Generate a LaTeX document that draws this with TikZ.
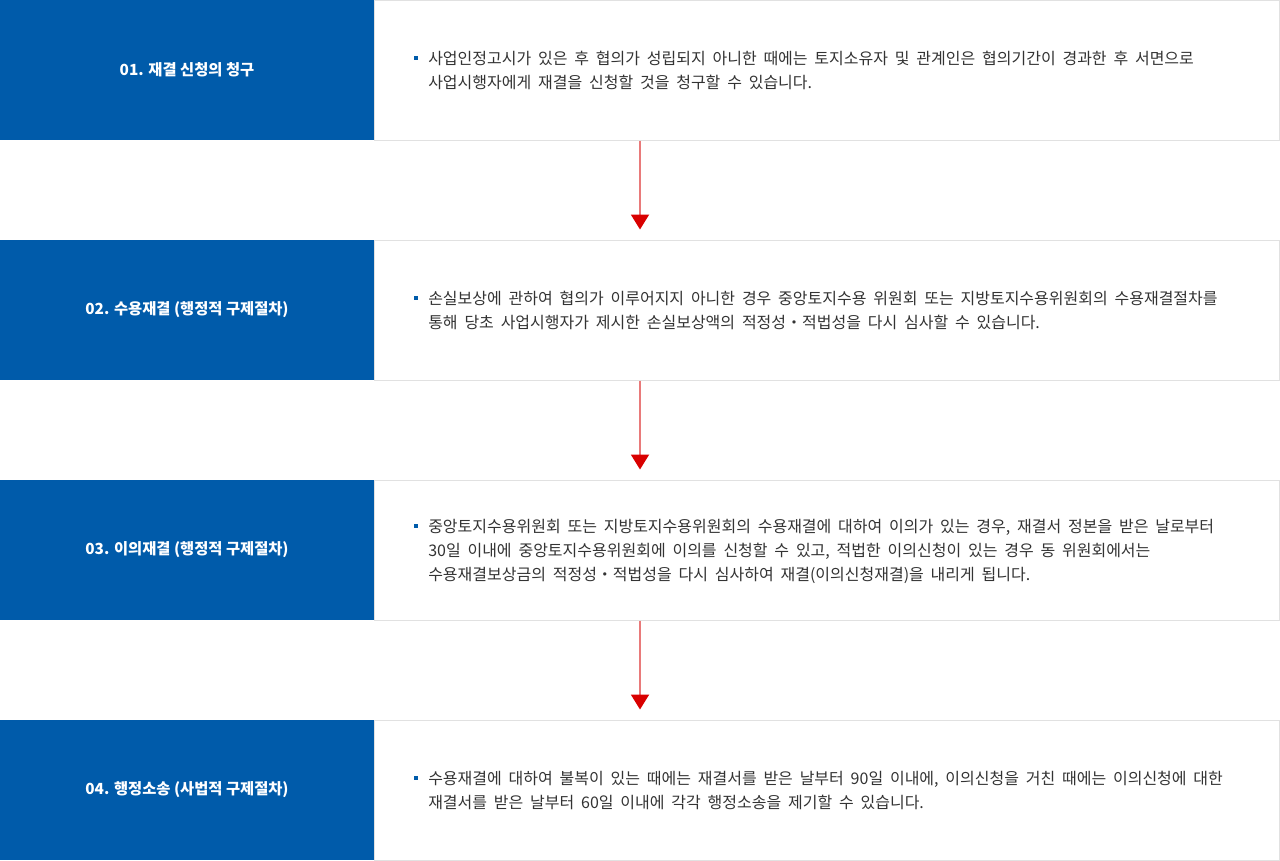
\documentclass[tikz,border=0pt]{standalone}
\usepackage{fontspec}
\setmainfont{Noto Sans CJK KR}
\newfontfamily\bodyfont[WordSpace=1.9]{Noto Sans CJK KR}
\usetikzlibrary{arrows.meta,positioning,calc}
\definecolor{stepblue}{HTML}{005BAA}
\definecolor{framegray}{HTML}{E1E1E1}
\definecolor{bodygray}{HTML}{333333}
\definecolor{linkred}{HTML}{E97A7A}
\definecolor{tipred}{HTML}{D90000}
\tikzset{
	titlebox/.style={
		fill=stepblue,
		minimum width=280.5pt,
		minimum height=105pt,
		inner sep=0pt,
		text=white,
		font=\fontsize{11.5}{14}\selectfont\bfseries
	},
	descbox/.style={
		draw=framegray,
		line width=0.75pt,
		fill=white,
		minimum width=678.75pt,
		minimum height=105pt,
		inner sep=0pt
	},
	desctext/.style={
		anchor=west,
		align=left,
		inner sep=0pt,
		text=bodygray,
		font=\bodyfont\fontsize{12}{18}\selectfont
	},
	bullet/.style={
		fill=stepblue,
		minimum size=3pt,
		inner sep=0pt
	},
	flow/.style={
		draw=linkred,
		line width=1.5pt,
		-{Triangle[length=11.25pt,width=13.5pt,color=tipred]},
		shorten >=7.5pt
	}
}

\begin{document}
\begin{tikzpicture}[x=0.75pt,y=-0.75pt]
	\useasboundingbox (0,0) rectangle (1280,860);
	
	% Boxes
	\node[titlebox] (t1) at (187,70) {01. 재결 신청의 청구};
	\node[descbox] (d1) at (826.5,70) {};
	\node[titlebox] (t2) at (187,310) {02. 수용재결 (행정적 구제절차)};
	\node[descbox] (d2) at (826.5,310) {};
	\node[titlebox] (t3) at (187,550) {03. 이의재결 (행정적 구제절차)};
	\node[descbox] (d3) at (826.5,550) {};
	\node[titlebox] (t4) at (187,790) {04. 행정소송 (사법적 구제절차)};
	\node[descbox] (d4) at (826.5,790) {};
	
	% Texts
	\node[bullet] (b1) at (415.5,58) {};
	\node[desctext] (x1) at (428,70)
	{사업인정고시가 있은 후 협의가 성립되지 아니한 때에는 토지소유자 및 관계인은 협의기간이 경과한 후 서면으로\\
		사업시행자에게 재결을 신청할 것을 청구할 수 있습니다.};
	\node[bullet] (b2) at (415.5,298) {};
	\node[desctext] (x2) at (428,310)
	{손실보상에 관하여 협의가 이루어지지 아니한 경우 중앙토지수용 위원회 또는 지방토지수용위원회의 수용재결절차를\\
		통해 당초 사업시행자가 제시한 손실보상액의 적정성・적법성을 다시 심사할 수 있습니다.};
	\node[bullet] (b3) at (415.5,526) {};
	\node[desctext] (x3) at (428,551)
	{중앙토지수용위원회 또는 지방토지수용위원회의 수용재결에 대하여 이의가 있는 경우, 재결서 정본을 받은 날로부터\\
		30일 이내에 중앙토지수용위원회에 이의를 신청할 수 있고, 적법한 이의신청이 있는 경우 동 위원회에서는\\
		수용재결보상금의 적정성・적법성을 다시 심사하여 재결(이의신청재결)을 내리게 됩니다.};
	\node[bullet] (b4) at (415.5,778) {};
	\node[desctext] (x4) at (428,790)
	{수용재결에 대하여 불복이 있는 때에는 재결서를 받은 날부터 90일 이내에, 이의신청을 거친 때에는 이의신청에 대한\\
		재결서를 받은 날부터 60일 이내에 각각 행정소송을 제기할 수 있습니다.};
	
	% Connections
	\coordinate (axis) at (640,0);
	\draw[flow] (d1.south -| axis) -- (d2.north -| axis);
	\draw[flow] (d2.south -| axis) -- (d3.north -| axis);
	\draw[flow] (d3.south -| axis) -- (d4.north -| axis);
	
\end{tikzpicture}
\end{document}
